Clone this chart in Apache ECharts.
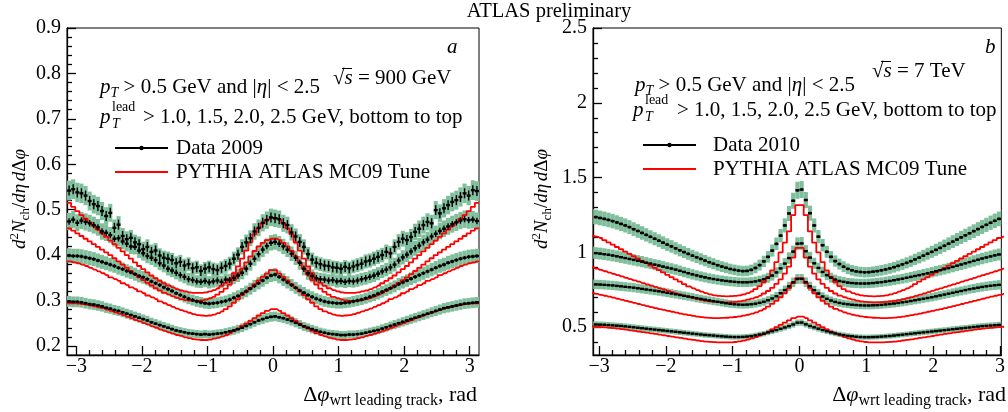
<!DOCTYPE html>
<html>
<head>
<meta charset="utf-8">
<script src="https://cdn.jsdelivr.net/npm/echarts@6/dist/echarts.min.js"></script>
<style>
  html, body { margin: 0; padding: 0; background: #fff; }
  #chart { width: 1008px; height: 412px; }
</style>
</head>
<body>
<div id="chart"></div>
<script>
// Δφ binning: equal bins over [-π, π]
const PHI_BINS = 100;

// Tick labels
const xTickLabels = [-3, -2, -1, 0, 1, 2, 3];
const yTickLabels900 = [0.2, 0.3, 0.4, 0.5, 0.6, 0.7, 0.8, 0.9];
const yTickLabels7 = [0.5, 1, 1.5, 2, 2.5];

// ---- √s = 900 GeV : data 2009, pT(lead) > 1.0, 1.5, 2.0, 2.5 GeV ----
const data900_10 = [
  0.298,0.297,0.297,0.296,0.294,0.292,0.291,0.289,0.287,0.284,
  0.282,0.279,0.277,0.274,0.271,0.268,0.265,0.262,0.259,0.256,
  0.252,0.249,0.246,0.243,0.240,0.237,0.234,0.232,0.230,0.228,
  0.227,0.226,0.225,0.226,0.225,0.226,0.227,0.228,0.230,0.232,
  0.234,0.237,0.240,0.244,0.248,0.252,0.256,0.259,0.262,0.264,
  0.265,0.263,0.261,0.258,0.255,0.251,0.247,0.243,0.240,0.237,
  0.234,0.231,0.229,0.227,0.226,0.225,0.224,0.224,0.225,0.225,
  0.226,0.227,0.229,0.231,0.233,0.235,0.238,0.241,0.244,0.247,
  0.250,0.253,0.256,0.259,0.262,0.265,0.268,0.271,0.274,0.277,
  0.280,0.283,0.285,0.287,0.289,0.291,0.293,0.294,0.295,0.296
];
const data900_15 = [
  0.399,0.398,0.398,0.397,0.395,0.393,0.391,0.388,0.385,0.382,
  0.379,0.376,0.372,0.369,0.365,0.362,0.358,0.354,0.351,0.347,
  0.342,0.338,0.334,0.329,0.325,0.321,0.316,0.312,0.308,0.304,
  0.301,0.298,0.296,0.294,0.293,0.294,0.295,0.297,0.299,0.302,
  0.306,0.310,0.315,0.320,0.326,0.332,0.338,0.344,0.350,0.355,
  0.357,0.352,0.346,0.340,0.334,0.328,0.322,0.317,0.312,0.308,
  0.304,0.301,0.298,0.296,0.295,0.294,0.294,0.295,0.296,0.298,
  0.300,0.302,0.305,0.308,0.311,0.315,0.319,0.323,0.327,0.331,
  0.336,0.340,0.344,0.348,0.352,0.356,0.360,0.364,0.368,0.372,
  0.376,0.379,0.383,0.386,0.389,0.392,0.394,0.396,0.397,0.398
];
const data900_20 = [
  0.474,0.478,0.471,0.476,0.473,0.470,0.466,0.461,0.452,0.449,
  0.444,0.436,0.437,0.430,0.425,0.419,0.418,0.410,0.404,0.398,
  0.394,0.389,0.382,0.377,0.370,0.366,0.361,0.356,0.352,0.347,
  0.345,0.342,0.341,0.343,0.340,0.342,0.344,0.341,0.346,0.345,
  0.350,0.355,0.361,0.370,0.381,0.392,0.402,0.412,0.420,0.427,
  0.429,0.425,0.419,0.412,0.403,0.394,0.383,0.370,0.360,0.354,
  0.349,0.347,0.346,0.344,0.345,0.342,0.343,0.341,0.343,0.342,
  0.344,0.347,0.349,0.352,0.355,0.359,0.364,0.368,0.373,0.379,
  0.388,0.395,0.401,0.408,0.415,0.421,0.428,0.434,0.441,0.447,
  0.453,0.458,0.463,0.468,0.472,0.476,0.479,0.477,0.478,0.475
];
const data900_25 = [
  0.542,0.545,0.538,0.536,0.531,0.519,0.512,0.508,0.497,0.486,
  0.493,0.460,0.467,0.442,0.435,0.438,0.428,0.424,0.413,0.418,
  0.407,0.410,0.399,0.394,0.392,0.389,0.382,0.385,0.377,0.380,
  0.371,0.373,0.365,0.370,0.373,0.369,0.367,0.372,0.376,0.381,
  0.392,0.401,0.418,0.428,0.437,0.452,0.460,0.471,0.477,0.483,
  0.481,0.479,0.470,0.466,0.450,0.441,0.429,0.418,0.402,0.390,
  0.383,0.380,0.377,0.376,0.373,0.372,0.370,0.374,0.371,0.375,
  0.378,0.381,0.386,0.388,0.392,0.396,0.400,0.407,0.404,0.418,
  0.429,0.436,0.433,0.440,0.451,0.458,0.466,0.473,0.470,0.499,
  0.492,0.503,0.510,0.517,0.521,0.528,0.536,0.531,0.543,0.541
];
// PYTHIA ATLAS MC09, 900 GeV
const mc900_10 = [
  0.294,0.294,0.293,0.292,0.291,0.289,0.287,0.285,0.283,0.280,
  0.277,0.274,0.271,0.268,0.264,0.261,0.257,0.254,0.250,0.247,
  0.243,0.240,0.236,0.233,0.230,0.227,0.224,0.222,0.219,0.217,
  0.215,0.214,0.213,0.213,0.214,0.216,0.218,0.221,0.224,0.228,
  0.233,0.238,0.244,0.249,0.255,0.261,0.267,0.272,0.277,0.281,
  0.281,0.277,0.272,0.267,0.261,0.255,0.249,0.244,0.238,0.233,
  0.228,0.224,0.221,0.218,0.216,0.214,0.213,0.213,0.214,0.215,
  0.217,0.219,0.222,0.224,0.227,0.230,0.233,0.236,0.240,0.243,
  0.247,0.250,0.254,0.257,0.261,0.264,0.268,0.271,0.274,0.277,
  0.280,0.283,0.285,0.287,0.289,0.291,0.292,0.293,0.294,0.294
];
const mc900_15 = [
  0.386,0.384,0.382,0.379,0.376,0.372,0.368,0.364,0.360,0.356,
  0.351,0.347,0.343,0.338,0.334,0.329,0.325,0.320,0.316,0.311,
  0.307,0.303,0.298,0.294,0.290,0.286,0.282,0.279,0.276,0.273,
  0.270,0.268,0.267,0.266,0.267,0.269,0.272,0.276,0.281,0.287,
  0.295,0.303,0.312,0.320,0.328,0.336,0.344,0.352,0.359,0.367,
  0.367,0.359,0.352,0.344,0.336,0.328,0.320,0.312,0.303,0.295,
  0.287,0.281,0.276,0.272,0.269,0.267,0.266,0.267,0.268,0.270,
  0.273,0.276,0.279,0.282,0.286,0.290,0.294,0.298,0.303,0.307,
  0.311,0.316,0.320,0.325,0.329,0.334,0.338,0.343,0.347,0.351,
  0.356,0.360,0.364,0.368,0.372,0.376,0.379,0.382,0.384,0.386
];
const mc900_20 = [
  0.459,0.454,0.448,0.442,0.436,0.430,0.424,0.418,0.412,0.406,
  0.400,0.393,0.386,0.379,0.372,0.365,0.358,0.351,0.345,0.339,
  0.333,0.327,0.322,0.317,0.313,0.309,0.306,0.303,0.301,0.300,
  0.299,0.299,0.300,0.302,0.305,0.308,0.313,0.319,0.326,0.335,
  0.345,0.357,0.370,0.384,0.397,0.409,0.419,0.427,0.433,0.436,
  0.436,0.433,0.427,0.419,0.409,0.397,0.384,0.370,0.357,0.345,
  0.335,0.326,0.319,0.313,0.308,0.305,0.302,0.300,0.299,0.299,
  0.300,0.301,0.303,0.306,0.309,0.313,0.317,0.322,0.327,0.333,
  0.339,0.345,0.351,0.358,0.365,0.372,0.379,0.386,0.393,0.400,
  0.406,0.412,0.418,0.424,0.430,0.436,0.442,0.448,0.454,0.459
];
const mc900_25 = [
  0.515,0.506,0.497,0.488,0.480,0.472,0.464,0.456,0.448,0.440,
  0.432,0.424,0.416,0.408,0.400,0.392,0.384,0.376,0.369,0.362,
  0.355,0.349,0.343,0.338,0.333,0.329,0.325,0.322,0.320,0.318,
  0.317,0.317,0.317,0.318,0.320,0.323,0.327,0.332,0.339,0.348,
  0.360,0.375,0.392,0.410,0.428,0.446,0.459,0.470,0.478,0.482,
  0.482,0.478,0.470,0.459,0.446,0.428,0.410,0.392,0.375,0.360,
  0.348,0.339,0.332,0.327,0.323,0.320,0.318,0.317,0.317,0.317,
  0.318,0.320,0.322,0.325,0.329,0.333,0.338,0.343,0.349,0.355,
  0.362,0.369,0.376,0.384,0.392,0.400,0.408,0.416,0.424,0.432,
  0.440,0.448,0.456,0.464,0.472,0.480,0.488,0.497,0.506,0.515
];

// ---- √s = 7 TeV : data 2010 ----
const data7_10 = [
  0.519,0.518,0.517,0.516,0.514,0.512,0.510,0.508,0.505,0.502,
  0.499,0.496,0.493,0.490,0.487,0.484,0.481,0.478,0.475,0.472,
  0.469,0.466,0.463,0.460,0.457,0.454,0.451,0.448,0.446,0.444,
  0.441,0.439,0.437,0.435,0.434,0.434,0.435,0.437,0.440,0.445,
  0.451,0.457,0.465,0.473,0.481,0.489,0.498,0.507,0.518,0.530,
  0.531,0.519,0.508,0.499,0.490,0.481,0.473,0.465,0.458,0.452,
  0.447,0.442,0.439,0.436,0.434,0.433,0.433,0.434,0.435,0.437,
  0.439,0.441,0.444,0.447,0.450,0.453,0.456,0.459,0.462,0.465,
  0.468,0.471,0.474,0.477,0.480,0.483,0.486,0.489,0.492,0.495,
  0.498,0.501,0.504,0.507,0.509,0.511,0.513,0.515,0.517,0.518
];
const data7_15 = [
  0.787,0.786,0.785,0.783,0.781,0.779,0.776,0.773,0.770,0.767,
  0.764,0.760,0.756,0.752,0.748,0.744,0.740,0.735,0.730,0.725,
  0.720,0.715,0.710,0.705,0.700,0.694,0.689,0.684,0.679,0.674,
  0.670,0.665,0.660,0.656,0.653,0.651,0.650,0.651,0.653,0.657,
  0.663,0.670,0.680,0.692,0.707,0.727,0.748,0.773,0.800,0.822,
  0.823,0.801,0.773,0.747,0.725,0.705,0.690,0.678,0.669,0.662,
  0.657,0.653,0.650,0.648,0.646,0.645,0.645,0.646,0.647,0.649,
  0.652,0.655,0.658,0.662,0.666,0.670,0.675,0.680,0.685,0.690,
  0.695,0.700,0.706,0.712,0.718,0.724,0.730,0.736,0.742,0.748,
  0.754,0.759,0.764,0.769,0.773,0.777,0.780,0.783,0.785,0.786
];
const data7_20 = [
  0.997,0.995,0.992,0.988,0.984,0.979,0.974,0.968,0.962,0.956,
  0.950,0.944,0.938,0.931,0.925,0.918,0.912,0.905,0.898,0.892,
  0.885,0.877,0.869,0.861,0.853,0.846,0.839,0.833,0.827,0.822,
  0.817,0.813,0.809,0.806,0.803,0.801,0.800,0.800,0.802,0.806,
  0.812,0.820,0.830,0.845,0.866,0.893,0.925,0.962,1.005,1.058,
  1.060,1.008,0.965,0.927,0.896,0.869,0.848,0.831,0.818,0.809,
  0.803,0.798,0.795,0.793,0.792,0.792,0.793,0.795,0.798,0.801,
  0.805,0.809,0.814,0.819,0.824,0.830,0.836,0.842,0.848,0.854,
  0.860,0.867,0.874,0.881,0.888,0.895,0.903,0.911,0.919,0.927,
  0.935,0.943,0.951,0.959,0.966,0.973,0.980,0.986,0.991,0.995
];
const data7_25 = [
  1.240,1.236,1.230,1.224,1.217,1.209,1.200,1.190,1.180,1.169,
  1.155,1.143,1.130,1.117,1.104,1.091,1.078,1.065,1.052,1.040,
  1.027,1.014,1.002,0.990,0.978,0.967,0.956,0.945,0.934,0.924,
  0.914,0.905,0.897,0.889,0.883,0.878,0.875,0.876,0.883,0.896,
  0.915,0.940,0.970,1.012,1.057,1.112,1.180,1.260,1.345,1.415,
  1.420,1.350,1.262,1.180,1.105,1.048,1.004,0.970,0.942,0.922,
  0.904,0.890,0.880,0.873,0.869,0.867,0.868,0.871,0.875,0.880,
  0.886,0.893,0.901,0.910,0.920,0.930,0.941,0.953,0.965,0.978,
  0.991,1.004,1.017,1.030,1.044,1.058,1.072,1.086,1.100,1.114,
  1.128,1.142,1.156,1.170,1.184,1.198,1.211,1.224,1.236,1.248
];
// PYTHIA ATLAS MC09, 7 TeV
const mc7_10 = [
  0.505,0.503,0.501,0.499,0.496,0.493,0.490,0.487,0.483,0.479,
  0.475,0.471,0.467,0.463,0.459,0.455,0.450,0.446,0.441,0.437,
  0.432,0.428,0.423,0.419,0.415,0.411,0.407,0.404,0.402,0.400,
  0.399,0.398,0.398,0.399,0.401,0.405,0.410,0.417,0.425,0.434,
  0.445,0.457,0.470,0.485,0.500,0.515,0.531,0.546,0.560,0.570,
  0.570,0.560,0.546,0.531,0.515,0.500,0.485,0.470,0.457,0.445,
  0.434,0.425,0.417,0.410,0.405,0.401,0.399,0.398,0.398,0.399,
  0.400,0.402,0.404,0.407,0.411,0.415,0.419,0.423,0.428,0.432,
  0.437,0.441,0.446,0.450,0.455,0.459,0.463,0.467,0.471,0.475,
  0.479,0.483,0.487,0.490,0.493,0.496,0.499,0.501,0.503,0.505
];
const mc7_15 = [
  0.727,0.722,0.716,0.710,0.704,0.697,0.690,0.683,0.676,0.669,
  0.662,0.655,0.648,0.641,0.634,0.627,0.621,0.615,0.609,0.603,
  0.597,0.591,0.585,0.580,0.575,0.571,0.567,0.564,0.562,0.561,
  0.561,0.562,0.563,0.565,0.568,0.572,0.577,0.583,0.590,0.599,
  0.610,0.623,0.638,0.656,0.676,0.700,0.728,0.760,0.795,0.828,
  0.828,0.795,0.760,0.728,0.700,0.676,0.656,0.638,0.623,0.610,
  0.599,0.590,0.583,0.577,0.572,0.568,0.565,0.563,0.562,0.561,
  0.561,0.562,0.564,0.567,0.571,0.575,0.580,0.585,0.591,0.597,
  0.603,0.609,0.615,0.621,0.627,0.634,0.641,0.648,0.655,0.662,
  0.669,0.676,0.683,0.690,0.697,0.704,0.710,0.716,0.722,0.727
];
const mc7_20 = [
  0.900,0.891,0.883,0.874,0.865,0.856,0.848,0.839,0.830,0.821,
  0.813,0.804,0.795,0.786,0.778,0.769,0.760,0.752,0.743,0.734,
  0.725,0.717,0.709,0.701,0.694,0.687,0.681,0.676,0.672,0.669,
  0.667,0.666,0.666,0.667,0.669,0.673,0.678,0.684,0.691,0.700,
  0.711,0.725,0.742,0.763,0.789,0.820,0.858,0.905,0.965,1.030,
  1.030,0.965,0.905,0.858,0.820,0.789,0.763,0.742,0.725,0.711,
  0.700,0.691,0.684,0.678,0.673,0.669,0.667,0.666,0.666,0.667,
  0.669,0.672,0.676,0.681,0.687,0.694,0.701,0.709,0.717,0.725,
  0.734,0.743,0.752,0.760,0.769,0.778,0.786,0.795,0.804,0.813,
  0.821,0.830,0.839,0.848,0.856,0.865,0.874,0.883,0.891,0.900
];
const mc7_25 = [
  1.110,1.105,1.096,1.082,1.067,1.052,1.036,1.021,1.005,0.990,
  0.974,0.959,0.943,0.928,0.912,0.897,0.881,0.866,0.850,0.835,
  0.819,0.804,0.788,0.773,0.760,0.748,0.737,0.727,0.719,0.713,
  0.709,0.707,0.706,0.707,0.709,0.713,0.719,0.728,0.740,0.755,
  0.775,0.802,0.836,0.880,0.935,1.000,1.065,1.140,1.249,1.316,
  1.316,1.249,1.140,1.065,1.000,0.935,0.880,0.836,0.802,0.775,
  0.755,0.740,0.728,0.719,0.713,0.709,0.707,0.706,0.707,0.709,
  0.713,0.719,0.727,0.737,0.748,0.760,0.773,0.788,0.804,0.819,
  0.835,0.850,0.866,0.881,0.897,0.912,0.928,0.943,0.959,0.974,
  0.990,1.005,1.021,1.036,1.052,1.067,1.082,1.096,1.105,1.110
];

// Relative systematic (band) and statistical (bar) uncertainties per pT(lead) cut
const sysRel900 = [0.04, 0.04, 0.04, 0.04];
const statErr900 = [0.003, 0.004, 0.007, 0.011];
const sysRel7 = [0.04, 0.04, 0.04, 0.04];
const statErr7 = [0.004, 0.005, 0.007, 0.009];

// ------------------------------------------------------------------
const SERIF = '"Liberation Serif", "DejaVu Serif", serif';
const GREEN = '#7fbf9b';
const RED = '#ff0000';

const binWidth = 2 * Math.PI / PHI_BINS;
const binEdges = [];
for (let i = 0; i <= PHI_BINS; i++) binEdges.push(-Math.PI + i * binWidth);
const binCenters = [];
for (let i = 0; i < PHI_BINS; i++) binCenters.push(-Math.PI + (i + 0.5) * binWidth);

function minorTicks(lo, hi, step, every) {
  const out = [];
  for (let k = Math.ceil(lo / step); k * step <= hi + 1e-9; k++) {
    if (k % every !== 0) out.push(Math.round(k * step * 1000) / 1000);
  }
  return out;
}
const xMinor = minorTicks(-3.1, 3.1, 0.2, 5);
const yMinor900 = minorTicks(0.21, 0.89, 0.02, 5);
const yMinor7 = minorTicks(0.35, 2.45, 0.1, 5);

const fmtX = v => (v < 0 ? '\u2212' + (-v) : String(v));
const fmtY900 = v => v.toFixed(1);
const fmtY7 = v => String(v);

const LABEL_FONT = { fontFamily: SERIF, fontSize: 20, color: '#000' };

function axisPair(kind, grid, min, max, major, minor, fmt, margin) {
  const base = {
    type: 'value', gridIndex: grid, min: min, max: max,
    position: kind === 'x' ? 'bottom' : 'left',
    splitLine: { show: false }, minorTick: { show: false }, axisPointer: { show: false }
  };
  const tickStyle = { color: '#000', width: 1.3 };
  return [
    Object.assign({}, base, {
      axisLine: { show: true, onZero: false, lineStyle: { color: '#000', width: 1.3 } },
      axisTick: { show: true, inside: true, length: 9, customValues: major, lineStyle: tickStyle },
      axisLabel: Object.assign({ show: true, customValues: major, formatter: fmt, margin: margin }, LABEL_FONT)
    }),
    Object.assign({}, base, {
      axisLine: { show: false, onZero: false },
      axisTick: { show: true, inside: true, length: 5, customValues: minor, lineStyle: tickStyle },
      axisLabel: { show: false }
    })
  ];
}

function renderBand(params, api) {
  const a = api.coord([api.value(0), api.value(2) + api.value(3)]);
  const b = api.coord([api.value(1), api.value(2) - api.value(3)]);
  const cs = params.coordSys;
  const r = echarts.graphic.clipRectByRect(
    { x: a[0], y: a[1], width: b[0] - a[0], height: b[1] - a[1] },
    { x: cs.x, y: cs.y, width: cs.width, height: cs.height });
  if (!r) return null;
  return { type: 'rect', shape: r, style: { fill: GREEN } };
}

function renderPoint(params, api) {
  const x = api.value(0), y = api.value(1), e = api.value(2);
  const c = api.coord([x, y]);
  const hi = api.coord([x, y + e]);
  const lo = api.coord([x, y - e]);
  const cs = params.coordSys;
  if (c[0] < cs.x || c[0] > cs.x + cs.width) return null;
  return {
    type: 'group',
    children: [
      { type: 'line', shape: { x1: c[0], y1: hi[1], x2: c[0], y2: lo[1] }, style: { stroke: '#000', lineWidth: 1.4 } },
      { type: 'rect', shape: { x: c[0] - 2, y: c[1] - 1.2, width: 4, height: 2.4 }, style: { fill: '#000' } }
    ]
  };
}

function panelSeries(axisIdx, dataSets, mcSets, sysRel, statErr) {
  const out = [];
  dataSets.forEach((vals, k) => {
    out.push({
      type: 'custom', xAxisIndex: axisIdx, yAxisIndex: axisIdx, z: 1, silent: true,
      renderItem: renderBand,
      data: vals.map((v, i) => [binEdges[i], binEdges[i + 1], v, v * sysRel[k]])
    });
  });
  mcSets.forEach(vals => {
    const pts = [[-Math.PI, vals[0]]];
    vals.forEach((v, i) => pts.push([binCenters[i], v]));
    pts.push([Math.PI, vals[vals.length - 1]]);
    out.push({
      type: 'line', xAxisIndex: axisIdx, yAxisIndex: axisIdx, z: 2, silent: true,
      step: 'middle', symbol: 'none', showSymbol: false, clip: true,
      lineStyle: { color: RED, width: 1.8 }, data: pts
    });
  });
  dataSets.forEach((vals, k) => {
    out.push({
      type: 'custom', xAxisIndex: axisIdx, yAxisIndex: axisIdx, z: 3, silent: true,
      renderItem: renderPoint,
      data: vals.map((v, i) => [binCenters[i], v, statErr[k]])
    });
  });
  return out;
}

// Rich-text styles for the annotations
const RICH = {
  n:    { fontFamily: SERIF, fontSize: 21, fill: '#000', lineHeight: 26 },
  i:    { fontFamily: SERIF, fontSize: 21, fontStyle: 'italic', fill: '#000', lineHeight: 26 },
  sub:  { fontFamily: SERIF, fontSize: 14, fill: '#000', verticalAlign: 'bottom', lineHeight: 14 },
  subi: { fontFamily: SERIF, fontSize: 14, fontStyle: 'italic', fill: '#000', verticalAlign: 'bottom', lineHeight: 14 },
  sup:  { fontFamily: SERIF, fontSize: 14, fill: '#000', verticalAlign: 'top', lineHeight: 14 },
  xn:   { fontFamily: SERIF, fontSize: 22, fill: '#000', lineHeight: 28 },
  xi:   { fontFamily: SERIF, fontSize: 22, fontStyle: 'italic', fill: '#000', lineHeight: 28 },
  xsub: { fontFamily: SERIF, fontSize: 16, fill: '#000', verticalAlign: 'bottom', lineHeight: 16 },
  yn:   { fontFamily: SERIF, fontSize: 19, fill: '#000', lineHeight: 24 },
  yi:   { fontFamily: SERIF, fontSize: 19, fontStyle: 'italic', fill: '#000', lineHeight: 24 },
  ysp:  { fontFamily: SERIF, fontSize: 11, fill: '#000', lineHeight: 24 },
  ysub: { fontFamily: SERIF, fontSize: 13, fill: '#000', verticalAlign: 'bottom', lineHeight: 13 },
  ysup: { fontFamily: SERIF, fontSize: 13, fill: '#000', verticalAlign: 'top', lineHeight: 13 }
};

function text(x, y, str, extra) {
  const style = Object.assign({
    text: str, rich: RICH, fontFamily: SERIF, fontSize: 21, fill: '#000',
    align: 'left', verticalAlign: 'middle', textAlign: 'left', textVerticalAlign: 'middle'
  }, extra || {});
  return { type: 'text', x: x, y: y, silent: true, style: style };
}
function hline(x1, x2, y, color, w) {
  return { type: 'line', silent: true, shape: { x1: x1, y1: y, x2: x2, y2: y }, style: { stroke: color, lineWidth: w } };
}

const ptLine1 = '{i|p}{subi|T}{n| > 0.5 GeV and |}{i|η}{n|| < 2.5}';
const ptLeadRest = '> 1.0, 1.5, 2.0, 2.5 GeV, bottom to top';
const yTitle = '{yi|d}{ysup|2}{yi|N}{ysub|ch}{yn|/}{yi|dη}{ysp| }{yi|d}{yn|Δ}{yi|φ}';
const xTitle = '{xn|Δ}{xi|φ}{xsub|wrt leading track}{xn|, rad}';

const graphics = [
  text(549, 12, 'ATLAS preliminary', { align: 'center', textAlign: 'center', fontSize: 20.5 }),

  // panel a
  text(447, 47, '{i|a}'),
  text(333, 78, '{n|√}{i|s}{n| = 900 GeV}'),
  hline(342, 352, 68.5, '#000', 1),
  text(100, 87, ptLine1),
  text(100, 117, '{i|p}'),
  text(112, 107, 'lead', { fontSize: 14 }),
  text(112, 124, 'T', { fontSize: 14, fontStyle: 'italic' }),
  text(143, 117, ptLeadRest),
  hline(115, 168, 148, '#000', 2),
  { type: 'circle', silent: true, shape: { cx: 141.5, cy: 148, r: 2.2 }, style: { fill: '#000' } },
  text(176, 148, 'Data 2009'),
  hline(115, 168, 172, RED, 2),
  text(176, 172, 'PYTHIA ATLAS MC09 Tune'),
  { type: 'text', x: 20, y: 199, rotation: Math.PI / 2, silent: true,
    style: { text: yTitle, rich: RICH, align: 'center', verticalAlign: 'middle', textAlign: 'center', textVerticalAlign: 'middle' } },
  text(477, 395, xTitle, { align: 'right', textAlign: 'right' }),

  // panel b
  text(985, 47, '{i|b}'),
  text(872, 71, '{n|√}{i|s}{n| = 7 TeV}'),
  hline(881, 891, 61.5, '#000', 1),
  text(635, 85, ptLine1),
  text(633, 110, '{i|p}'),
  text(645, 100, 'lead', { fontSize: 14 }),
  text(645, 117, 'T', { fontSize: 14, fontStyle: 'italic' }),
  text(677, 110, ptLeadRest),
  hline(643, 696, 145, '#000', 2),
  { type: 'circle', silent: true, shape: { cx: 669.5, cy: 145, r: 2.2 }, style: { fill: '#000' } },
  text(713, 145, 'Data 2010'),
  hline(643, 696, 169, RED, 2),
  text(713, 169, 'PYTHIA ATLAS MC09 Tune'),
  { type: 'text', x: 542, y: 199, rotation: Math.PI / 2, silent: true,
    style: { text: yTitle, rich: RICH, align: 'center', verticalAlign: 'middle', textAlign: 'center', textVerticalAlign: 'middle' } },
  text(1006, 395, xTitle, { align: 'right', textAlign: 'right' })
];

const xa900 = axisPair('x', 0, -Math.PI, Math.PI, xTickLabels, xMinor, fmtX, 2);
const ya900 = axisPair('y', 0, 0.18, 0.9, yTickLabels900, yMinor900, fmtY900, 6);
const xa7 = axisPair('x', 1, -3.09, 3.02, xTickLabels, xMinor, fmtX, 2);
const ya7 = axisPair('y', 1, 0.314, 2.5, yTickLabels7, yMinor7, fmtY7, 6);

const option = {
  animation: false,
  backgroundColor: '#fff',
  grid: [
    { left: 67, top: 28, width: 412, height: 327, show: true, borderColor: '#000', borderWidth: 1, backgroundColor: 'transparent' },
    { left: 593, top: 28, width: 410, height: 327, show: true, borderColor: '#000', borderWidth: 1, backgroundColor: 'transparent' }
  ],
  xAxis: [xa900[0], xa900[1], xa7[0], xa7[1]],
  yAxis: [ya900[0], ya900[1], ya7[0], ya7[1]],
  series: [].concat(
    panelSeries(0, [data900_10, data900_15, data900_20, data900_25],
                   [mc900_10, mc900_15, mc900_20, mc900_25], sysRel900, statErr900),
    panelSeries(2, [data7_10, data7_15, data7_20, data7_25],
                   [mc7_10, mc7_15, mc7_20, mc7_25], sysRel7, statErr7)
  ),
  graphic: { elements: graphics }
};

const chart = echarts.init(document.getElementById('chart'), null, { renderer: 'canvas' });
chart.setOption(option);
</script>
</body>
</html>
